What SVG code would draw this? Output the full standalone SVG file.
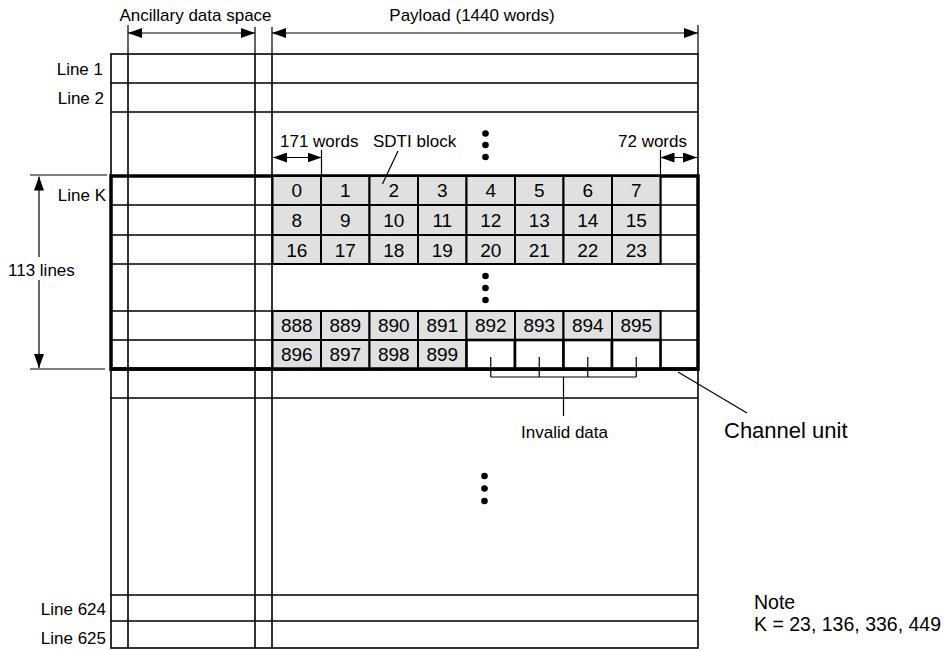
<svg xmlns="http://www.w3.org/2000/svg" width="952" height="651" viewBox="0 0 952 651">
<style>
text{font-family:"Liberation Sans",Arial,sans-serif;fill:#000}
.lb{font-size:17px}
.ln{font-size:17px;text-anchor:end}
.nt{font-size:19.5px}
.num{font-size:19px;text-anchor:middle}
.g{stroke:#000;stroke-width:1.6;fill:none}
.thin{stroke:#000;stroke-width:1.2;fill:none}
.cell{fill:#e0e0e0;stroke:#000;stroke-width:2}
.inv{fill:#fff;stroke:#000;stroke-width:2.6}
.dot{fill:#000}
</style>
<defs>
<marker id="ah" viewBox="0 0 14 10" refX="14" refY="5" markerWidth="14" markerHeight="10" markerUnits="userSpaceOnUse" orient="auto-start-reverse">
<path d="M0,0 L14,5 L0,10 z" fill="#000"/>
</marker>
</defs>
<rect width="952" height="651" fill="#fff"/>

<g id="frame">
<rect x="111" y="54" width="587" height="594" class="g" stroke-width="2"/>
<path class="g" d="M128,54V648M255,54V648M272,54V648"/>
<path class="g" d="M111,83H698M111,112H698M111,205H698M111,235H698M111,264H698M111,311H698M111,340H698M111,398H698M111,595H698M111,621H698"/>
<path class="g" d="M660.5,176V264M660.5,311V369"/>
<rect x="111" y="176" width="587" height="193" fill="none" stroke="#000" stroke-width="3.5"/>
</g>

<g id="line-labels">
<text class="ln" x="103" y="75">Line 1</text>
<text class="ln" x="104" y="104">Line 2</text>
<text class="ln" x="106" y="201">Line K</text>
<text class="ln" x="106" y="615">Line 624</text>
<text class="ln" x="106" y="644">Line 625</text>
<text class="lb" x="8" y="276">113 lines</text>
</g>

<g id="header">
<text class="lb" x="195.5" y="21" text-anchor="middle">Ancillary data space</text>
<text class="lb" x="472" y="21" text-anchor="middle">Payload (1440 words)</text>
<text class="lb" x="280" y="147">171 words</text>
<text class="lb" x="373" y="147">SDTI block</text>
<text class="lb" x="618" y="147">72 words</text>
</g>

<g id="cells">
<g id="row0">
<rect class="cell" x="272.5" y="176" width="48.5" height="29"/><text class="num" x="296.75" y="197">0</text>
<rect class="cell" x="321" y="176" width="48.5" height="29"/><text class="num" x="345.25" y="197">1</text>
<rect class="cell" x="369.5" y="176" width="48.5" height="29"/><text class="num" x="393.75" y="197">2</text>
<rect class="cell" x="418" y="176" width="48.5" height="29"/><text class="num" x="442.25" y="197">3</text>
<rect class="cell" x="466.5" y="176" width="48.5" height="29"/><text class="num" x="490.75" y="197">4</text>
<rect class="cell" x="515" y="176" width="48.5" height="29"/><text class="num" x="539.25" y="197">5</text>
<rect class="cell" x="563.5" y="176" width="48.5" height="29"/><text class="num" x="587.75" y="197">6</text>
<rect class="cell" x="612" y="176" width="48.5" height="29"/><text class="num" x="636.25" y="197">7</text>
</g>
<g id="row1">
<rect class="cell" x="272.5" y="205" width="48.5" height="30"/><text class="num" x="296.75" y="227">8</text>
<rect class="cell" x="321" y="205" width="48.5" height="30"/><text class="num" x="345.25" y="227">9</text>
<rect class="cell" x="369.5" y="205" width="48.5" height="30"/><text class="num" x="393.75" y="227">10</text>
<rect class="cell" x="418" y="205" width="48.5" height="30"/><text class="num" x="442.25" y="227">11</text>
<rect class="cell" x="466.5" y="205" width="48.5" height="30"/><text class="num" x="490.75" y="227">12</text>
<rect class="cell" x="515" y="205" width="48.5" height="30"/><text class="num" x="539.25" y="227">13</text>
<rect class="cell" x="563.5" y="205" width="48.5" height="30"/><text class="num" x="587.75" y="227">14</text>
<rect class="cell" x="612" y="205" width="48.5" height="30"/><text class="num" x="636.25" y="227">15</text>
</g>
<g id="row2">
<rect class="cell" x="272.5" y="235" width="48.5" height="29"/><text class="num" x="296.75" y="257">16</text>
<rect class="cell" x="321" y="235" width="48.5" height="29"/><text class="num" x="345.25" y="257">17</text>
<rect class="cell" x="369.5" y="235" width="48.5" height="29"/><text class="num" x="393.75" y="257">18</text>
<rect class="cell" x="418" y="235" width="48.5" height="29"/><text class="num" x="442.25" y="257">19</text>
<rect class="cell" x="466.5" y="235" width="48.5" height="29"/><text class="num" x="490.75" y="257">20</text>
<rect class="cell" x="515" y="235" width="48.5" height="29"/><text class="num" x="539.25" y="257">21</text>
<rect class="cell" x="563.5" y="235" width="48.5" height="29"/><text class="num" x="587.75" y="257">22</text>
<rect class="cell" x="612" y="235" width="48.5" height="29"/><text class="num" x="636.25" y="257">23</text>
</g>
<g id="row888">
<rect class="cell" x="272.5" y="311" width="48.5" height="29"/><text class="num" x="296.75" y="332">888</text>
<rect class="cell" x="321" y="311" width="48.5" height="29"/><text class="num" x="345.25" y="332">889</text>
<rect class="cell" x="369.5" y="311" width="48.5" height="29"/><text class="num" x="393.75" y="332">890</text>
<rect class="cell" x="418" y="311" width="48.5" height="29"/><text class="num" x="442.25" y="332">891</text>
<rect class="cell" x="466.5" y="311" width="48.5" height="29"/><text class="num" x="490.75" y="332">892</text>
<rect class="cell" x="515" y="311" width="48.5" height="29"/><text class="num" x="539.25" y="332">893</text>
<rect class="cell" x="563.5" y="311" width="48.5" height="29"/><text class="num" x="587.75" y="332">894</text>
<rect class="cell" x="612" y="311" width="48.5" height="29"/><text class="num" x="636.25" y="332">895</text>
</g>
<g id="row896">
<rect class="cell" x="272.5" y="340" width="48.5" height="29"/><text class="num" x="296.75" y="361">896</text>
<rect class="cell" x="321" y="340" width="48.5" height="29"/><text class="num" x="345.25" y="361">897</text>
<rect class="cell" x="369.5" y="340" width="48.5" height="29"/><text class="num" x="393.75" y="361">898</text>
<rect class="cell" x="418" y="340" width="48.5" height="29"/><text class="num" x="442.25" y="361">899</text>
<rect class="inv" x="466.5" y="340" width="48.5" height="29"/>
<rect class="inv" x="515" y="340" width="48.5" height="29"/>
<rect class="inv" x="563.5" y="340" width="48.5" height="29"/>
<rect class="inv" x="612" y="340" width="48.5" height="29"/>
</g>
<path d="M111,369H698" stroke="#000" stroke-width="3.5"/>
</g>

<g id="dots">
<circle class="dot" cx="485.5" cy="133.5" r="3.3"/><circle class="dot" cx="485.5" cy="145" r="3.3"/><circle class="dot" cx="485.5" cy="157" r="3.3"/>
<circle class="dot" cx="485.5" cy="276" r="3.3"/><circle class="dot" cx="485.5" cy="288" r="3.3"/><circle class="dot" cx="485.5" cy="300" r="3.3"/>
<circle class="dot" cx="484.5" cy="476" r="3.3"/><circle class="dot" cx="484.5" cy="488.5" r="3.3"/><circle class="dot" cx="484.5" cy="501" r="3.3"/>
</g>

<g id="connectors">
<path class="thin" d="M128,25V54M255,27V54M272,27V54M698,25V54"/>
<line class="thin" x1="128" y1="33" x2="255" y2="33" marker-start="url(#ah)" marker-end="url(#ah)"/>
<line class="thin" x1="272" y1="33" x2="698" y2="33" marker-start="url(#ah)" marker-end="url(#ah)"/>
<path class="thin" d="M321.5,150V176M660.5,150V176"/>
<line class="thin" x1="273" y1="157.5" x2="321.5" y2="157.5" marker-start="url(#ah)" marker-end="url(#ah)"/>
<line class="thin" x1="660.5" y1="157.5" x2="697" y2="157.5" marker-start="url(#ah)" marker-end="url(#ah)"/>
<line class="thin" x1="398" y1="151" x2="382.5" y2="184"/>
<path class="thin" d="M30,175H107M30,369H105"/>
<line class="thin" x1="39" y1="257" x2="39" y2="176.5" marker-end="url(#ah)"/>
<line class="thin" x1="39" y1="280" x2="39" y2="368" marker-end="url(#ah)"/>
<path class="thin" d="M490.75,357V377M539.25,357V377M587.75,357V377M636.25,357V377M490.75,377H636.25M563.5,377V416"/>
<line class="thin" x1="678" y1="372" x2="747" y2="413"/>
</g>

<g id="annotations">
<text class="lb" x="564.5" y="438" text-anchor="middle">Invalid data</text>
<text x="724" y="438" font-size="22">Channel unit</text>
<text class="nt" x="754" y="609">Note</text>
<text class="nt" x="754" y="631">K = 23, 136, 336, 449</text>
</g>
</svg>
